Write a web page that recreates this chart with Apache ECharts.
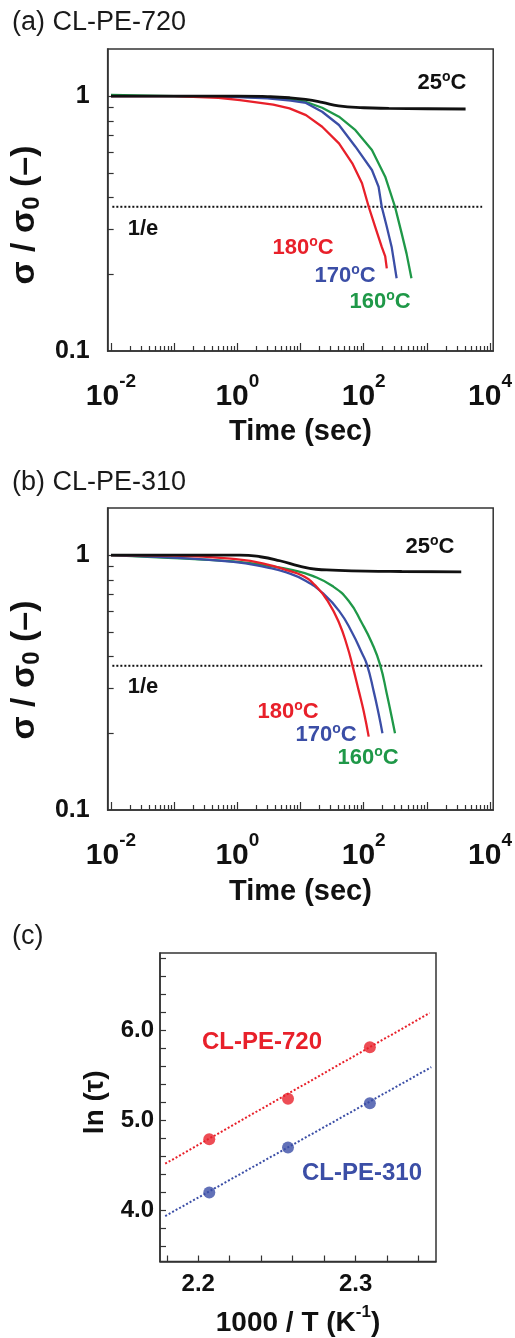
<!DOCTYPE html>
<html><head><meta charset="utf-8">
<script src="https://cdn.jsdelivr.net/npm/echarts@6/dist/echarts.min.js"></script>
<style>html,body{margin:0;padding:0;background:#fff}#c{width:515px;height:1338px}</style>
</head><body><div id="c"></div>
<script>
// ---------- Data ----------
// Panel (a) CL-PE-720 : time (s) / sigma/sigma0
const tA_25 = [0.01, 0.1, 1, 3, 6.7, 12, 22, 40, 100, 250, 1000, 4100];
const vA_25 = [1.0, 1.0, 1.0, 0.995, 0.985, 0.97, 0.945, 0.915, 0.9, 0.895, 0.892, 0.89];
const tA_180 = [0.01, 0.1, 0.5, 1.1, 3.7, 6.7, 12.2, 22, 40.6, 66, 94, 120, 152, 193, 219, 232];
const vA_180 = [1.0, 1.0, 0.985, 0.965, 0.925, 0.895, 0.842, 0.758, 0.652, 0.545, 0.455, 0.368, 0.307, 0.256, 0.235, 0.211];
const tA_170 = [0.01, 0.1, 1, 3, 7, 12.2, 22, 40.6, 74, 135, 172, 193, 232, 277, 332];
const vA_170 = [1.0, 1.0, 0.99, 0.98, 0.96, 0.94, 0.868, 0.77, 0.633, 0.513, 0.441, 0.368, 0.307, 0.256, 0.193];
const tA_160 = [0.01, 0.1, 1, 5, 12, 22, 40.6, 74, 135, 219, 313, 398, 477, 570];
const vA_160 = [1.01, 1.0, 0.995, 0.98, 0.95, 0.9, 0.83, 0.735, 0.614, 0.483, 0.368, 0.29, 0.241, 0.193];
// Panel (b) CL-PE-310
const tB_25 = [0.01, 0.1, 1.1, 2.3, 4.7, 9.6, 17.5, 32, 107, 400, 3500];
const vB_25 = [1.0, 1.0, 1.0, 0.985, 0.95, 0.905, 0.88, 0.873, 0.865, 0.862, 0.86];
const tB_180 = [0.01, 0.1, 1.1, 2.9, 6, 10.8, 17.5, 28, 41, 55, 66, 84, 100, 120];
const vB_180 = [1.0, 0.995, 0.96, 0.92, 0.873, 0.829, 0.756, 0.65, 0.54, 0.438, 0.371, 0.292, 0.244, 0.194];
const tB_170 = [0.01, 0.08, 0.87, 2.9, 6, 12.2, 22, 41, 66, 94, 113, 144, 172, 198];
const vB_170 = [1.0, 0.98, 0.94, 0.894, 0.855, 0.792, 0.712, 0.603, 0.495, 0.412, 0.371, 0.292, 0.239, 0.20];
const tB_160 = [0.01, 0.08, 0.87, 2.9, 7.6, 15.5, 32, 58, 94, 135, 182, 232, 277, 313];
const vB_160 = [1.0, 0.975, 0.945, 0.91, 0.873, 0.829, 0.756, 0.66, 0.54, 0.452, 0.371, 0.286, 0.232, 0.20];
// 1/e reference line
const invE_t = [0.0105, 7500];
const invE_v = [0.3679, 0.3679];
// Panel (c) Arrhenius plot
const invT = [2.207, 2.257, 2.309];
const lnTau720 = [4.79, 5.24, 5.81];
const lnTau310 = [4.20, 4.70, 5.19];
const fit720_x = [2.179, 2.347], fit720_y = [4.52, 6.19];
const fit310_x = [2.179, 2.348], fit310_y = [3.94, 5.59];
// Tick values / labels
const xDecades = [0.01, 0.1, 1, 10, 100, 1000, 10000];
const xLabelVals = [0.01, 1, 100, 10000];
const yLogTicks = [0.2, 0.3, 0.4, 0.5, 0.6, 0.7, 0.8, 0.9, 1];
const yLogLabels = [0.1, 1];
const cXTicks = [2.18, 2.20, 2.22, 2.24, 2.26, 2.28, 2.30, 2.32, 2.34];
const cXLabels = [2.2, 2.3];
const cYTicks = [3.6, 3.8, 4.0, 4.2, 4.4, 4.6, 4.8, 5.0, 5.2, 5.4, 5.6, 5.8, 6.0, 6.2, 6.4, 6.6, 6.8];
const cYLabels = [4.0, 5.0, 6.0];
const xMinor = [];
xDecades.slice(0, -1).forEach(d => { for (let k = 2; k <= 9; k++) xMinor.push(+(d * k).toPrecision(3)); });

// ---------- Styles ----------
const F = '"Liberation Sans", Arial, Helvetica, sans-serif';
const RED = '#e8202a', BLUE = '#3b4ea6', GREEN = '#1f9848', BLACK = '#111111', AX = '#333333';
const zip = (a, b) => a.map((x, i) => [x, b[i]]);

function logXMain(grid, nameGap) {
  return {
    type: 'log', gridIndex: grid, position: 'bottom', min: 0.00885, max: 11220,
    axisLine: { show: true, lineStyle: { color: AX, width: 1.5 } },
    axisTick: { show: true, inside: true, length: 8, customValues: xDecades, lineStyle: { color: AX, width: 1.2 } },
    axisLabel: {
      customValues: xLabelVals, margin: 21, color: BLACK,
      formatter: v => '{b|10}{s|' + Math.round(Math.log10(v)) + '}',
      rich: {
        b: { fontSize: 30, fontWeight: 'bold', fontFamily: F, color: BLACK },
        s: { fontSize: 19, fontWeight: 'bold', fontFamily: F, color: BLACK, padding: [0, 0, 30, 0] }
      }
    },
    splitLine: { show: false },
    name: 'Time (sec)', nameLocation: 'middle', nameGap: nameGap,
    nameTextStyle: { fontSize: 29, fontWeight: 'bold', fontFamily: F, color: BLACK, lineHeight: 29 }
  };
}
function logXMinor(grid) {
  return {
    type: 'log', gridIndex: grid, position: 'bottom', offset: 0, min: 0.00885, max: 11220,
    axisLine: { show: false },
    axisTick: { show: true, inside: true, length: 5, customValues: xMinor, lineStyle: { color: AX, width: 1.2 } },
    axisLabel: { show: false }, splitLine: { show: false }
  };
}
function logY(grid, pad) {
  return {
    type: 'log', gridIndex: grid, position: 'left', min: 0.1, max: 1.53,
    axisLine: { show: true, lineStyle: { color: AX, width: 1.5 } },
    axisTick: { show: true, inside: true, length: 6, customValues: yLogTicks, lineStyle: { color: AX, width: 1.2 } },
    axisLabel: {
      customValues: yLogLabels, margin: 18, fontSize: 25, fontWeight: 'bold', fontFamily: F, color: BLACK,
      formatter: v => (v >= 1 ? '1' : '0.1')
    },
    splitLine: { show: false },
    name: '{a|σ / σ}{s|0}{a| (–)}', nameLocation: 'middle', nameGap: 44,
    nameTextStyle: {
      padding: [0, pad, 0, 0],
      rich: {
        a: { fontSize: 34, fontWeight: 'bold', fontFamily: F, color: BLACK },
        s: { fontSize: 24, fontWeight: 'bold', fontFamily: F, color: BLACK, padding: [14, 0, 0, 0] }
      }
    }
  };
}
function lineS(x, y, t, v, color, w, smooth) {
  return { type: 'line', xAxisIndex: x, yAxisIndex: y, data: zip(t, v), showSymbol: false, smooth: smooth,
    lineStyle: { color: color, width: w }, silent: true, z: 3 };
}
function dotted(x, y, t, v, color, w) {
  return { type: 'line', xAxisIndex: x, yAxisIndex: y, data: zip(t, v), showSymbol: false,
    lineStyle: { color: color, width: w, type: [2, 2] }, silent: true, z: 2 };
}
function txt(x, y, text, size, color, weight) {
  return { type: 'text', x: x, y: y, style: { text: text, fontSize: size, fontWeight: weight || 'bold', fontFamily: F,
    fill: color, align: 'center', verticalAlign: 'middle' } };
}
function degLabel(x, y, num, color) {
  return { type: 'text', x: x, y: y, style: {
    text: '{m|' + num + '}{o|o}{m|C}', align: 'center', verticalAlign: 'middle',
    rich: {
      m: { fontSize: 22, fontWeight: 'bold', fontFamily: F, fill: color },
      o: { fontSize: 14, fontWeight: 'bold', fontFamily: F, fill: color, padding: [0, 0, 12, 0] }
    } } };
}
function title(x, y, text) {
  return { type: 'text', x: x, y: y, style: { text: text, fontSize: 27, fontFamily: F, fill: '#1a1a1a',
    align: 'left', verticalAlign: 'middle' } };
}

const option = {
  animation: false,
  backgroundColor: '#ffffff',
  textStyle: { fontFamily: F },
  grid: [
    { left: 106, top: 49, width: 390, height: 302, show: true, borderColor: AX, borderWidth: 1.5 },
    { left: 106, top: 508, width: 390, height: 302, show: true, borderColor: AX, borderWidth: 1.5 },
    { left: 160, top: 953, width: 276, height: 310, show: true, borderColor: AX, borderWidth: 1.5 }
  ],
  xAxis: [
    logXMain(0, 66), logXMinor(0), logXMain(1, 67), logXMinor(1),
    {
      type: 'value', gridIndex: 2, position: 'bottom', min: 2.1757, max: 2.351,
      axisLine: { show: true, lineStyle: { color: AX, width: 1.5 } },
      axisTick: { show: true, inside: true, length: 6, customValues: cXTicks, lineStyle: { color: AX, width: 1.2 } },
      axisLabel: { customValues: cXLabels, margin: 11, fontSize: 24, fontWeight: 'bold', fontFamily: F, color: BLACK,
        lineHeight: 24, formatter: v => v.toFixed(1) },
      splitLine: { show: false },
      name: '{a|1000 / T (K}{s|-1}{a|)}', nameLocation: 'middle', nameGap: 42,
      nameTextStyle: { rich: {
        a: { fontSize: 28, fontWeight: 'bold', fontFamily: F, color: BLACK },
        s: { fontSize: 17, fontWeight: 'bold', fontFamily: F, color: BLACK, padding: [0, 0, 22, 0] } } }
    }
  ],
  yAxis: [
    logY(0, 30), logY(1, 22),
    {
      type: 'value', gridIndex: 2, position: 'left', min: 3.4365, max: 6.855,
      axisLine: { show: true, lineStyle: { color: AX, width: 1.5 } },
      axisTick: { show: true, inside: true, length: 6, customValues: cYTicks, lineStyle: { color: AX, width: 1.2 } },
      axisLabel: { customValues: cYLabels, margin: 6, fontSize: 24, fontWeight: 'bold', fontFamily: F, color: BLACK,
        formatter: v => v.toFixed(1) },
      splitLine: { show: false },
      name: 'ln (τ)', nameLocation: 'middle', nameGap: 38,
      nameTextStyle: { fontSize: 28, fontWeight: 'bold', fontFamily: F, color: BLACK, padding: [0, 0, 0, 10] }
    }
  ],
  series: [
    dotted(0, 0, invE_t, invE_v, BLACK, 2),
    lineS(0, 0, tA_160, vA_160, GREEN, 2.3, false),
    lineS(0, 0, tA_170, vA_170, BLUE, 2.3, false),
    lineS(0, 0, tA_180, vA_180, RED, 2.3, false),
    lineS(0, 0, tA_25, vA_25, BLACK, 2.8, true),
    dotted(2, 1, invE_t, invE_v, BLACK, 2),
    lineS(2, 1, tB_160, vB_160, GREEN, 2.3, true),
    lineS(2, 1, tB_170, vB_170, BLUE, 2.3, true),
    lineS(2, 1, tB_180, vB_180, RED, 2.3, true),
    lineS(2, 1, tB_25, vB_25, BLACK, 2.8, true),
    dotted(4, 2, fit720_x, fit720_y, RED, 2),
    dotted(4, 2, fit310_x, fit310_y, BLUE, 2),
    { type: 'scatter', xAxisIndex: 4, yAxisIndex: 2, data: zip(invT, lnTau720), symbol: 'circle', symbolSize: 12,
      itemStyle: { color: RED }, z: 4, silent: true },
    { type: 'scatter', xAxisIndex: 4, yAxisIndex: 2, data: zip(invT, lnTau310), symbol: 'circle', symbolSize: 12,
      itemStyle: { color: BLUE }, z: 4, silent: true }
  ],
  graphic: [
    title(12, 23, '(a) CL-PE-720'),
    title(12, 483, '(b) CL-PE-310'),
    title(12, 937, '(c)'),
    degLabel(442, 83, '25', BLACK),
    txt(143, 229, '1/e', 22, BLACK),
    degLabel(303, 248, '180', RED),
    degLabel(345, 276, '170', BLUE),
    degLabel(380, 302, '160', GREEN),
    degLabel(430, 547, '25', BLACK),
    txt(143, 687, '1/e', 22, BLACK),
    degLabel(288, 712, '180', RED),
    degLabel(326, 735, '170', BLUE),
    degLabel(368, 758, '160', GREEN),
    txt(262, 1042, 'CL-PE-720', 24, RED),
    txt(362, 1173, 'CL-PE-310', 24, BLUE)
  ]
};
const chart = echarts.init(document.getElementById('c'), null, { renderer: 'canvas' });
chart.setOption(option);
</script>
</body></html>
